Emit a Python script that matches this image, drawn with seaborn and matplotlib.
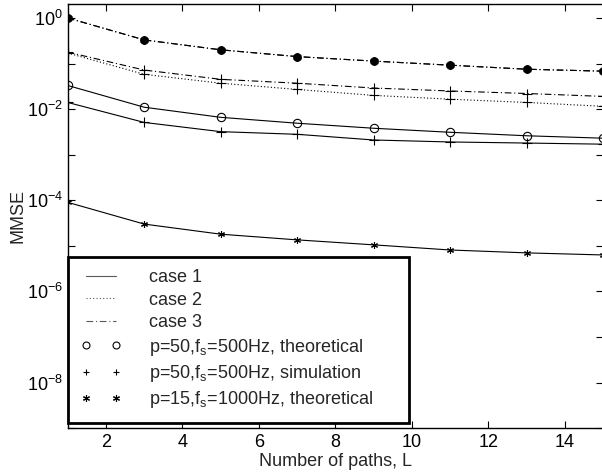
import matplotlib
matplotlib.use("Agg")
import matplotlib.pyplot as plt
from matplotlib.lines import Line2D
import numpy as np
import pandas as pd
import seaborn as sns

# number of paths
paths_L = [1, 3, 5, 7, 9, 11, 13, 15]

# case 3, p=50 theoretical / p=15 theoretical (coincide)
case3_theo = [1.0, 0.33, 0.20, 0.142, 0.113, 0.092, 0.075, 0.068]
# case 3, p=50 simulation
case3_sim = [0.178, 0.072, 0.045, 0.037, 0.029, 0.025, 0.022, 0.019]
# case 2, p=50 simulation
case2_sim = [0.17, 0.058, 0.037, 0.027, 0.020, 0.0165, 0.014, 0.0115]
# case 1, p=50 theoretical
case1_theo = [0.033, 0.011, 0.0066, 0.0049, 0.0038, 0.0031, 0.0026, 0.0023]
# case 1, p=50 simulation
case1_sim = [0.014, 0.0051, 0.0032, 0.0028, 0.0021, 0.0019, 0.0018, 0.0017]
# case 1, p=15 theoretical
case1_p15 = [9.0e-5, 3.0e-5, 1.8e-5, 1.35e-5, 1.05e-5, 8.1e-6, 7.0e-6, 6.3e-6]

legend_labels = ["case 1", "case 2", "case 3",
                 r"p=50,f$_\mathregular{s}$=500Hz, theoretical",
                 r"p=50,f$_\mathregular{s}$=500Hz, simulation",
                 r"p=15,f$_\mathregular{s}$=1000Hz, theoretical"]

sns.set_style("ticks")
plt.rcParams["font.family"] = ["Liberation Sans", "DejaVu Sans"]
plt.rcParams["mathtext.fontset"] = "custom"
plt.rcParams["mathtext.rm"] = "Liberation Sans"
plt.rcParams["mathtext.it"] = "Liberation Sans"
plt.rcParams["xtick.direction"] = "in"
plt.rcParams["ytick.direction"] = "in"

FS = 13
dashdot = (0, (6, 2.5, 1, 2.5))
asterisk = (6, 2, 0)

fig = plt.figure(figsize=(6.02, 4.72), dpi=100)
ax = fig.add_axes([0.1125, 0.093, 0.8895, 0.898])

def draw(vals, ls, marker, ms=5, mfc="k"):
    df = pd.DataFrame({"L": paths_L, "mmse": vals})
    sns.lineplot(data=df, x="L", y="mmse", ax=ax, color="k", lw=0.8,
                 linestyle=ls, marker=marker, markersize=ms,
                 markerfacecolor=mfc, markeredgecolor="k", markeredgewidth=0.8)

draw(case3_theo, dashdot, "o", ms=5.5, mfc="k")
draw(case3_theo, dashdot, asterisk, ms=6)
draw(case3_sim, dashdot, "+", ms=7)
draw(case2_sim, (0, (1, 2)), "+", ms=7)
draw(case1_theo, "-", "o", ms=6, mfc="none")
draw(case1_sim, "-", "+", ms=7)
draw(case1_p15, "-", asterisk, ms=5)

ax.set_yscale("log")
ax.set_xlim(1, 15)
ax.set_ylim(1e-9, 2.0)
ax.set_xticks([2, 4, 6, 8, 10, 12, 14])
exps = np.arange(-9, 1)
ax.set_yticks(10.0 ** exps)
ax.set_yticklabels([r"$10^{%d}$" % e if e % 2 == 0 else "" for e in exps])
ax.yaxis.set_minor_locator(matplotlib.ticker.NullLocator())
ax.tick_params(axis="both", which="major", labelsize=FS, length=5, width=0.8,
               top=True, right=True, color="k", labelcolor="k")
ax.tick_params(axis="x", pad=4)
for s in ax.spines.values():
    s.set_color("k")
    s.set_linewidth(1.0)

ax.set_xlabel("Number of paths, L", fontsize=FS, labelpad=2)
ax.set_ylabel("MMSE", fontsize=FS, labelpad=0)

handles = [
    Line2D([], [], color="0.35", lw=0.8, ls="-"),
    Line2D([], [], color="0.35", lw=0.8, ls=(0, (1, 2))),
    Line2D([], [], color="0.35", lw=0.8, ls=dashdot),
    Line2D([], [], color="k", ls="none", marker="o", mfc="none", ms=5, mew=0.8),
    Line2D([], [], color="k", ls="none", marker="+", ms=5, mew=0.8),
    Line2D([], [], color="k", ls="none", marker=asterisk, ms=5, mew=0.8),
]
leg = ax.legend(handles, legend_labels, loc="lower left",
                bbox_to_anchor=(0.0, 0.012, 0.637, 0.415), mode="expand",
                borderaxespad=0, numpoints=2, handlelength=2.3,
                handletextpad=1.5, labelspacing=0.3, borderpad=0.7,
                fontsize=FS, fancybox=False, framealpha=1)
leg.get_frame().set_edgecolor("k")
leg.get_frame().set_linewidth(2.0)

fig.savefig("out.png", dpi=100)
